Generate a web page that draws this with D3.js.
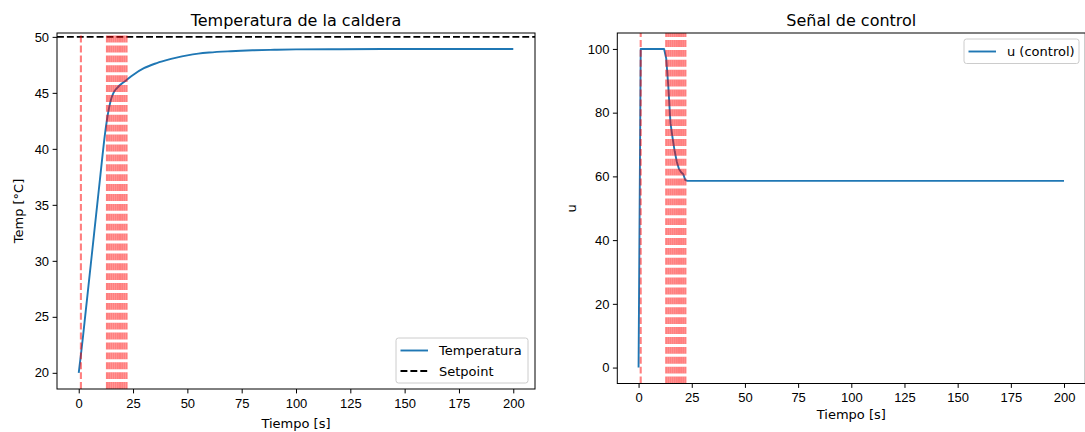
<!DOCTYPE html>
<html lang="es">
<head>
<meta charset="UTF-8">
<title>Caldera</title>
<script src="https://d3js.org/d3.v7.min.js"></script>
<style>
    body { margin: 0; background: #fff; }
    svg { display: block; font-family: "DejaVu Sans", sans-serif; }
    .tick text { font-size: 13px; fill: #000; }
    .tick line { stroke: #000; stroke-width: 1px; }
    .domain { display: none; }
    .frame { fill: none; stroke: #000; stroke-width: 1px; }
    .title { font-size: 16px; text-anchor: middle; }
    .label { font-size: 13px; text-anchor: middle; }
    .legend text { font-size: 13px; }
</style>
</head>
<body>
<script>
// temperatura
const tempTime = [0, 1, 2, 3, 4, 5, 6, 7, 8, 9, 10, 11, 12, 13, 14, 15, 16, 17, 18, 19, 20, 22, 25, 30, 35, 40, 45, 50, 55, 60, 70, 80, 90, 100, 120, 140, 160, 180, 200];
const tempVals = [20.0, 21.6, 23.3, 25.1, 26.9, 28.7, 30.5, 32.3, 34.1, 35.9, 37.7, 39.5, 41.2, 42.6, 43.7, 44.5, 45.0, 45.3, 45.5, 45.7, 45.85, 46.15, 46.6, 47.2, 47.6, 47.9, 48.15, 48.35, 48.5, 48.6, 48.72, 48.8, 48.85, 48.88, 48.9, 48.91, 48.92, 48.92, 48.92];
const setpoint = 50;

// senal de control
const uTime = [0, 1, 2, 12, 13, 14, 15, 16, 17, 18, 19, 20, 21, 22, 23, 200];
const uVals = [0, 100, 100, 100, 97, 88, 76.7, 72, 67.8, 64.5, 62.3, 61.3, 60.7, 58.8, 58.6, 58.6];

// instantes marcados (lineas rojas)
const marks = [1, 13, 14, 15, 16, 17, 18, 19, 20, 21, 22];

const xTicks = [0, 25, 50, 75, 100, 125, 150, 175, 200];
const tempTicks = [20, 25, 30, 35, 40, 45, 50];
const uTicks = [0, 20, 40, 60, 80, 100];

const W = 1085, H = 432;
const blue = "#1f77b4";

const svg = d3.select("body").append("svg")
    .attr("width", W)
    .attr("height", H);

function panel(opt) {
    const x = d3.scaleLinear().domain([-10, 210]).range([opt.left, opt.right]);
    const y = d3.scaleLinear().domain(opt.yDomain).range([opt.bottom, opt.top]);
    const g = svg.append("g");

    const clipId = "clip" + opt.id;
    svg.append("clipPath").attr("id", clipId)
        .append("rect")
        .attr("x", opt.left).attr("y", opt.top)
        .attr("width", opt.right - opt.left).attr("height", opt.bottom - opt.top);

    const plot = g.append("g").attr("clip-path", `url(#${clipId})`);

    const line = d3.line()
        .x((d, i) => x(opt.xs[i]))
        .y(d => y(d))
        .curve(opt.curve);

    plot.append("path")
        .datum(opt.ys)
        .attr("d", line)
        .attr("fill", "none")
        .attr("stroke", blue)
        .attr("stroke-width", 1.9)
        .attr("stroke-linejoin", "round");

    if (opt.hline !== undefined) {
        plot.append("line")
            .attr("x1", opt.left).attr("x2", opt.right)
            .attr("y1", y(opt.hline)).attr("y2", y(opt.hline))
            .attr("stroke", "#000")
            .attr("stroke-width", 1.9)
            .attr("stroke-dasharray", "6.9,3");
    }

    plot.selectAll("line.mark")
        .data(marks)
        .join("line")
        .attr("class", "mark")
        .attr("x1", d => x(d)).attr("x2", d => x(d))
        .attr("y1", opt.bottom).attr("y2", opt.top)
        .attr("stroke", "red")
        .attr("stroke-opacity", 0.5)
        .attr("stroke-width", 2.1)
        .attr("stroke-dasharray", "6.9,3");

    g.append("g")
        .attr("transform", `translate(0,${opt.bottom})`)
        .call(d3.axisBottom(x).tickValues(xTicks).tickFormat(d3.format("d")).tickSize(4.4).tickPadding(5));

    g.append("g")
        .attr("transform", `translate(${opt.left},0)`)
        .call(d3.axisLeft(y).tickValues(opt.yTicks).tickFormat(d3.format("d")).tickSize(4.4).tickPadding(3.5));

    g.append("rect")
        .attr("class", "frame")
        .attr("x", opt.left).attr("y", opt.top)
        .attr("width", opt.right - opt.left).attr("height", opt.bottom - opt.top);

    g.append("text")
        .attr("class", "title")
        .attr("x", (opt.left + opt.right) / 2)
        .attr("y", 26)
        .text(opt.title);

    g.append("text")
        .attr("class", "label")
        .attr("x", (opt.left + opt.right) / 2)
        .attr("y", opt.xLabelY)
        .text("Tiempo [s]");

    g.append("text")
        .attr("class", "label")
        .attr("transform", `translate(${opt.yLabelX},${(opt.top + opt.bottom) / 2}) rotate(-90)`)
        .text(opt.yLabel);

    // leyenda
    const lg = g.append("g").attr("class", "legend")
        .attr("transform", `translate(${opt.legend.x},${opt.legend.y})`);
    lg.append("rect")
        .attr("width", opt.legend.w)
        .attr("height", opt.legend.items.length * 20.5 + 4)
        .attr("rx", 2.5)
        .attr("fill", "#fff")
        .attr("fill-opacity", 0.8)
        .attr("stroke", "#cccccc")
        .attr("stroke-width", 1);
    opt.legend.items.forEach((it, i) => {
        const cy = 12.5 + i * 20.5;
        lg.append("line")
            .attr("x1", 4.5).attr("x2", 32)
            .attr("y1", cy).attr("y2", cy)
            .attr("stroke", it.color)
            .attr("stroke-width", 1.9)
            .attr("stroke-dasharray", it.dash ? "6.9,3" : null);
        lg.append("text")
            .attr("x", 43)
            .attr("y", cy + 4.7)
            .text(it.name);
    });
}

panel({
    id: "a", left: 57, right: 535, top: 33, bottom: 389,
    yDomain: [18.555, 50.345], yTicks: tempTicks,
    xs: tempTime, ys: tempVals, curve: d3.curveMonotoneX,
    hline: setpoint,
    title: "Temperatura de la caldera", yLabel: "Temp [°C]",
    xLabelY: 427.5, yLabelX: 23,
    legend: { x: 396, y: 338, w: 132, items: [
        { name: "Temperatura", color: blue },
        { name: "Setpoint", color: "#000", dash: true }
    ] }
});

panel({
    id: "b", left: 617.3, right: 1085.3, top: 33, bottom: 383.5,
    yDomain: [-5, 105], yTicks: uTicks,
    xs: uTime, ys: uVals, curve: d3.curveLinear,
    title: "Señal de control", yLabel: "u",
    xLabelY: 419, yLabelX: 576,
    legend: { x: 964, y: 39, w: 115, items: [
        { name: "u (control)", color: blue }
    ] }
});
</script>
</body>
</html>
